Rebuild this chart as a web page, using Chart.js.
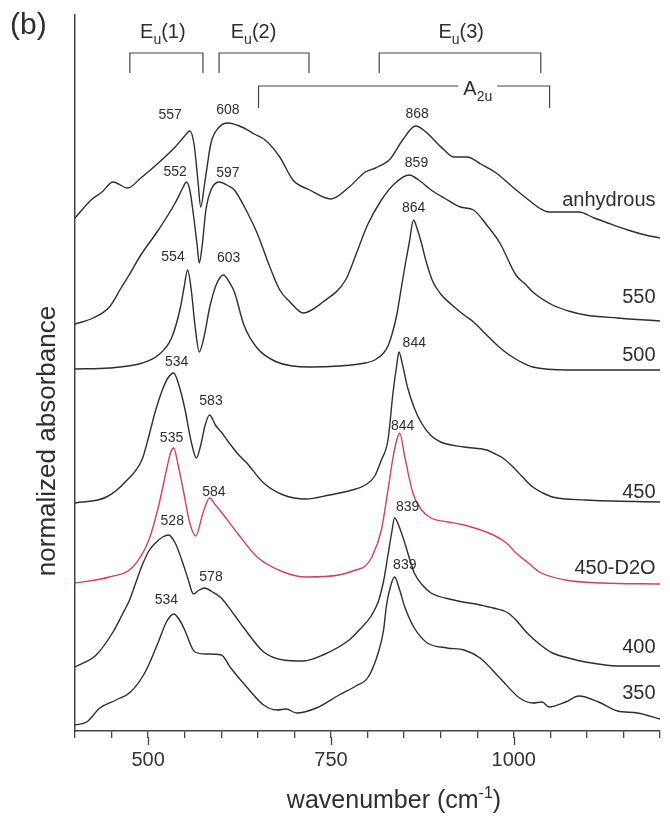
<!DOCTYPE html>
<html>
<head>
<meta charset="utf-8">
<title>Normalized absorbance spectra</title>
<script src="https://cdn.jsdelivr.net/npm/chart.js@4.4.1/dist/chart.umd.min.js"></script>
<style>
  html, body { margin: 0; padding: 0; background: #fff; }
  #wrap { width: 670px; height: 817px; }
</style>
</head>
<body>
<div id="wrap"><canvas id="chart-spectra" width="670" height="817"></canvas></div>
<script>
// ─── Spectra (wavenumber, offset normalized absorbance) ─────────────────────
const anhydrousX = [400, 422, 437, 452, 472, 490, 514, 537, 550, 557, 563, 568, 572, 577, 586, 596, 609, 631, 645, 660, 680, 698, 721, 750, 775, 797, 811, 831, 848, 866, 880, 891, 905, 918, 936, 955, 976, 1000, 1017, 1035, 1048, 1070, 1089, 1110, 1125, 1156, 1180, 1200];
const anhydrousY = [5.13, 5.31, 5.39, 5.49, 5.43, 5.53, 5.68, 5.84, 5.95, 6.00, 5.86, 5.51, 5.24, 5.46, 5.88, 6.03, 6.08, 6.03, 5.97, 5.91, 5.74, 5.51, 5.41, 5.32, 5.44, 5.59, 5.63, 5.72, 5.91, 6.05, 5.99, 5.91, 5.81, 5.74, 5.74, 5.67, 5.58, 5.43, 5.33, 5.23, 5.19, 5.19, 5.19, 5.13, 5.09, 5.01, 4.96, 4.93];

const t550X = [400, 425, 447, 463, 474, 490, 514, 537, 548, 552, 557, 562, 567, 570, 574, 579, 586, 597, 610, 618, 636, 649, 667, 680, 694, 712, 739, 770, 784, 800, 819, 838, 857, 870, 887, 905, 927, 945, 963, 981, 1003, 1017, 1026, 1053, 1075, 1098, 1142, 1200];
const t550Y = [4.07, 4.13, 4.24, 4.43, 4.56, 4.76, 5.01, 5.28, 5.44, 5.49, 5.41, 5.16, 4.86, 4.68, 4.86, 5.21, 5.41, 5.49, 5.45, 5.41, 5.18, 4.98, 4.63, 4.41, 4.29, 4.18, 4.29, 4.51, 4.76, 5.06, 5.31, 5.48, 5.56, 5.51, 5.41, 5.33, 5.24, 5.21, 5.06, 4.88, 4.56, 4.46, 4.39, 4.26, 4.20, 4.16, 4.13, 4.10];

const t500X = [400, 447, 492, 514, 532, 544, 549, 554, 559, 564, 570, 577, 584, 593, 603, 611, 618, 631, 649, 676, 721, 761, 797, 810, 822, 828, 834, 840, 846, 852, 857, 863, 868, 873, 880, 889, 900, 914, 932, 945, 963, 980, 994, 1010, 1026, 1075, 1200];
const t500Y = [3.62, 3.63, 3.68, 3.76, 3.93, 4.23, 4.43, 4.61, 4.41, 4.06, 3.79, 3.96, 4.23, 4.46, 4.56, 4.49, 4.39, 4.06, 3.83, 3.69, 3.64, 3.65, 3.68, 3.71, 3.78, 3.85, 3.98, 4.16, 4.42, 4.68, 4.88, 5.11, 5.02, 4.90, 4.70, 4.50, 4.37, 4.27, 4.16, 4.09, 3.96, 3.84, 3.76, 3.69, 3.64, 3.61, 3.61];

const t450X = [400, 443, 470, 492, 501, 510, 520, 527, 535, 542, 550, 559, 566, 572, 578, 584, 592, 600, 613, 624, 635, 658, 685, 716, 748, 779, 797, 810, 819, 828, 835, 840, 843, 848, 855, 864, 873, 886, 900, 932, 963, 972, 985, 999, 1012, 1026, 1040, 1053, 1098, 1200];
const t450Y = [2.28, 2.34, 2.50, 2.72, 2.95, 3.20, 3.42, 3.53, 3.58, 3.46, 3.23, 2.89, 2.73, 2.86, 3.06, 3.16, 3.06, 2.99, 2.86, 2.76, 2.68, 2.48, 2.36, 2.32, 2.36, 2.41, 2.46, 2.55, 2.71, 2.91, 3.39, 3.66, 3.79, 3.66, 3.43, 3.23, 3.09, 2.96, 2.89, 2.84, 2.81, 2.78, 2.73, 2.64, 2.54, 2.44, 2.38, 2.34, 2.31, 2.29];

const d2oX = [400, 447, 479, 501, 514, 526, 531, 535, 541, 548, 557, 565, 575, 584, 592, 600, 622, 649, 685, 716, 761, 784, 797, 806, 819, 828, 835, 840, 844, 851, 862, 874, 887, 910, 932, 972, 990, 1003, 1020, 1035, 1071, 1120, 1200];
const d2oY = [1.48, 1.54, 1.64, 1.91, 2.24, 2.64, 2.79, 2.83, 2.66, 2.41, 2.08, 1.95, 2.18, 2.33, 2.26, 2.19, 1.98, 1.74, 1.59, 1.54, 1.56, 1.61, 1.65, 1.74, 2.01, 2.41, 2.74, 2.91, 2.98, 2.74, 2.38, 2.21, 2.13, 2.09, 2.06, 1.96, 1.88, 1.78, 1.68, 1.59, 1.51, 1.48, 1.47];

const t400X = [400, 429, 452, 465, 474, 483, 492, 501, 510, 520, 528, 537, 546, 555, 562, 570, 577, 588, 600, 618, 631, 658, 685, 712, 739, 775, 790, 805, 815, 822, 828, 833, 837, 845, 851, 858, 864, 875, 887, 918, 954, 972, 990, 1003, 1017, 1035, 1053, 1075, 1098, 1142, 1200];
const t400Y = [0.64, 0.76, 0.99, 1.17, 1.30, 1.48, 1.66, 1.80, 1.88, 1.94, 1.96, 1.88, 1.71, 1.51, 1.37, 1.41, 1.43, 1.39, 1.33, 1.16, 1.03, 0.79, 0.71, 0.70, 0.76, 0.91, 1.02, 1.15, 1.30, 1.50, 1.76, 1.98, 2.13, 2.01, 1.88, 1.71, 1.58, 1.46, 1.38, 1.31, 1.26, 1.23, 1.19, 1.11, 0.99, 0.87, 0.78, 0.73, 0.69, 0.65, 0.65];

const t350X = [400, 416, 434, 456, 476, 496, 514, 525, 535, 543, 550, 564, 580, 600, 613, 636, 658, 676, 689, 703, 730, 761, 784, 801, 815, 822, 826, 832, 837, 844, 851, 864, 882, 909, 932, 954, 981, 1008, 1026, 1039, 1048, 1071, 1089, 1116, 1142, 1169, 1200];
const t350Y = [0.06, 0.09, 0.23, 0.31, 0.39, 0.59, 0.89, 1.09, 1.17, 1.11, 1.01, 0.79, 0.77, 0.76, 0.63, 0.43, 0.26, 0.21, 0.22, 0.18, 0.23, 0.36, 0.45, 0.54, 0.79, 1.01, 1.26, 1.46, 1.54, 1.41, 1.24, 1.03, 0.88, 0.83, 0.81, 0.73, 0.53, 0.33, 0.28, 0.29, 0.24, 0.29, 0.35, 0.29, 0.20, 0.18, 0.12];

const seriesNames = ['anhydrous', '550', '500', '450', '450-D2O', '400', '350'];
const seriesX = [anhydrousX, t550X, t500X, t450X, d2oX, t400X, t350X];
const seriesY = [anhydrousY, t550Y, t500Y, t450Y, d2oY, t400Y, t350Y];
// where each trace's name sits (right edge, height)
const nameAtX = 1194;
const nameAtY = [5.31, 4.34, 3.76, 2.39, 1.63, 0.84, 0.38];

// ─── Peak positions written above the traces ────────────────────────────────
const peakText = ['557', '608', '868', '552', '597', '859', '864', '554', '603', '844', '534', '583', '844', '535', '584', '839', '528', '578', '839', '534'];
const peakAtX  = [530, 609, 868, 537, 609, 867, 863, 534, 610, 864, 539, 586, 848, 532, 590, 855, 533, 586, 851, 525];
const peakAtY  = [6.16, 6.21, 6.17, 5.59, 5.58, 5.68, 5.23, 4.74, 4.73, 3.88, 3.69, 3.30, 3.05, 2.93, 2.39, 2.24, 2.10, 1.54, 1.66, 1.31];

// ─── Band assignments (brackets) ─────────────────────────────────────────────
const bandMain   = ['E', 'E', 'E', 'A'];
const bandSub    = ['u', 'u', 'u', '2u'];
const bandSuffix = ['(1)', '(2)', '(3)', ''];
const bandFrom   = [475, 597, 816, 651];
const bandTo     = [575, 720, 1037, 1049];
const bandLine   = [6.78, 6.78, 6.78, 6.45];
const bandFoot   = [6.58, 6.58, 6.58, 6.23];
const bandTextX  = [489, 613, 897, 931];
const bandTextY  = [6.93, 6.93, 6.93, 6.36];

const majorTicks = [500, 750, 1000];

const FONT = "'Liberation Sans', Arial, sans-serif";
const INK = '#2e2e2e';
const RED = '#d4405f';

// ─── helpers ────────────────────────────────────────────────────────────────
function subText(ctx, x, y, main, sub, rest, size) {
  ctx.font = `${size}px ${FONT}`;
  ctx.fillText(main, x, y);
  let w = ctx.measureText(main).width;
  ctx.font = `${Math.round(size * 0.7)}px ${FONT}`;
  ctx.fillText(sub, x + w, y + size * 0.28);
  w += ctx.measureText(sub).width;
  ctx.font = `${size}px ${FONT}`;
  ctx.fillText(rest, x + w, y);
  return w + ctx.measureText(rest).width;
}

const decorations = {
  id: 'decorations',
  afterDraw(chart) {
    const { ctx, chartArea } = chart;
    const xs = chart.scales.x, ys = chart.scales.y;
    ctx.save();
    ctx.fillStyle = INK;
    ctx.strokeStyle = '#444';

    // long major ticks
    ctx.lineWidth = 1.3;
    majorTicks.forEach(v => {
      const px = Math.round(xs.getPixelForValue(v)) + 0.5;
      ctx.beginPath();
      ctx.moveTo(px, chartArea.bottom + 6);
      ctx.lineTo(px, chartArea.bottom + 14);
      ctx.stroke();
    });

    // peak labels
    ctx.font = `14px ${FONT}`;
    ctx.textAlign = 'center';
    ctx.textBaseline = 'middle';
    peakText.forEach((t, i) => {
      ctx.fillText(t, xs.getPixelForValue(peakAtX[i]), ys.getPixelForValue(peakAtY[i]));
    });

    // trace names
    ctx.font = `20px ${FONT}`;
    ctx.textAlign = 'right';
    seriesNames.forEach((n, i) => {
      ctx.fillText(n, xs.getPixelForValue(nameAtX), ys.getPixelForValue(nameAtY[i]));
    });

    // band brackets
    ctx.textAlign = 'left';
    ctx.textBaseline = 'alphabetic';
    ctx.lineWidth = 1.2;
    bandMain.forEach((m, i) => {
      const x0 = xs.getPixelForValue(bandFrom[i]);
      const x1 = xs.getPixelForValue(bandTo[i]);
      const yl = ys.getPixelForValue(bandLine[i]);
      const yf = ys.getPixelForValue(bandFoot[i]);
      const tx = xs.getPixelForValue(bandTextX[i]);
      const ty = ys.getPixelForValue(bandTextY[i]);
      const w = subText(ctx, tx, ty, m, bandSub[i], bandSuffix[i], 20);
      ctx.beginPath();
      ctx.moveTo(x0, yf);
      ctx.lineTo(x0, yl);
      if (ty > yl) { // label sits on the line: break it
        ctx.lineTo(tx - 5, yl);
        ctx.moveTo(tx + w + 5, yl);
      }
      ctx.lineTo(x1, yl);
      ctx.lineTo(x1, yf);
      ctx.stroke();
    });

    // panel letter
    ctx.font = `30px ${FONT}`;
    ctx.fillText('(b)', 10, 34);

    // x title with superscript
    const base = 'wavenumber (cm', sup = '-1', tail = ')';
    ctx.font = `25px ${FONT}`;
    const w1 = ctx.measureText(base).width, w3 = ctx.measureText(tail).width;
    ctx.font = `16px ${FONT}`;
    const w2 = ctx.measureText(sup).width;
    let sx = 394 - (w1 + w2 + w3) / 2;
    ctx.font = `25px ${FONT}`;
    ctx.fillText(base, sx, 808);
    ctx.font = `16px ${FONT}`;
    ctx.fillText(sup, sx + w1, 798);
    ctx.font = `25px ${FONT}`;
    ctx.fillText(tail, sx + w1 + w2, 808);

    // y title
    ctx.translate(55, 441);
    ctx.rotate(-Math.PI / 2);
    ctx.textAlign = 'center';
    ctx.font = `26px ${FONT}`;
    ctx.fillText('normalized absorbance', 0, 0);
    ctx.restore();
  }
};

// ─── Chart ──────────────────────────────────────────────────────────────────
document.addEventListener('DOMContentLoaded', () => {
  Chart.defaults.font.family = FONT;
  Chart.defaults.color = INK;

  const datasets = seriesNames.map((name, i) => ({
    label: name,
    data: seriesX[i].map((x, j) => ({ x, y: seriesY[i][j] })),
    borderColor: name === '450-D2O' ? RED : INK,
    borderWidth: 1.4,
    pointRadius: 0,
    fill: false,
    cubicInterpolationMode: 'monotone',
  }));

  new Chart(document.getElementById('chart-spectra'), {
    type: 'line',
    data: { datasets },
    options: {
      responsive: false,
      animation: false,
      devicePixelRatio: 1,
      layout: { padding: { top: 15, right: 1, left: 0, bottom: 0 } },
      plugins: { legend: { display: false }, tooltip: { enabled: false } },
      scales: {
        x: {
          type: 'linear',
          min: 400,
          max: 1200,
          afterFit: s => { s.height = 86; },
          ticks: {
            stepSize: 50,
            autoSkip: false,
            maxRotation: 0,
            padding: 10,
            font: { size: 20 },
            color: '#333',
            callback: v => majorTicks.includes(v) ? String(v) : '',
          },
          grid: { drawOnChartArea: false, tickLength: 7, color: '#444', lineWidth: 1.3 },
          border: { color: '#444', width: 1.5 },
        },
        y: {
          min: 0,
          max: 7.16,
          afterFit: s => { s.width = 75; },
          ticks: { display: false },
          grid: { display: false },
          border: { color: '#444', width: 1.5 },
        }
      }
    },
    plugins: [decorations]
  });
});
</script>
</body>
</html>
